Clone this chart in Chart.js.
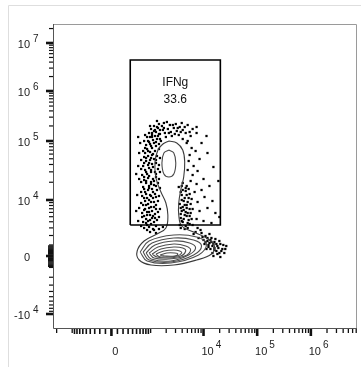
<!DOCTYPE html>
<html>
<head>
<meta charset="utf-8">
<script src="https://cdn.jsdelivr.net/npm/chart.js@4.4.0/dist/chart.umd.min.js"></script>
<style>
  html, body { margin: 0; padding: 0; background: #fff; }
  canvas { display: block; }
</style>
</head>
<body>
<canvas id="plot" width="361" height="367"></canvas>
<script>
// axis ticks (real values) and their labels [base, exponent]
const xTickValues = [0, 1e4, 1e5, 1e6];
const xTickLabels = [['0', ''], ['10', '4'], ['10', '5'], ['10', '6']];
const yTickValues = [-1e4, 0, 1e4, 1e5, 1e6, 1e7];
const yTickLabels = [['-10', '4'], ['0', ''], ['10', '4'], ['10', '5'], ['10', '6'], ['10', '7']];

// gate (display channel units)
const gateName = 'IFNg';
const gateFreq = '33.6';
const gateBox = [[78, 104], [169, 104], [169, 269], [78, 269], [78, 104]];

// outermost contour: upper (IFNg+) drop joined to the lower blob
const contourOuter = [
  [117,188],[125,186],[131,179],[133,167],[132,152],[129,139],[127,126],[127,114],
  [130,103],[142,97],[155,91],[163,83],[160,75],[145,69],[122,64],[99,64],
  [87,69],[85,78],[92,88],[105,95],[114,101],[116,114],[114,126],[109,137],
  [104,151],[103,167],[106,179],[111,185],[117,188]
];
const contourUpperCore = [
  [117,179],[122,176],[124,166],[122,155],[117,152],[112,155],[110,166],[112,176],[117,179]
];
const contourLower = [
  [[88,77],[97,88],[122,94],[145,92],[155,85],[147,74],[119,66],[95,68],[88,77]],
  [[91,77],[100,86],[122,91],[142,89],[150,83],[142,74],[119,67],[97,69],[91,77]],
  [[94,76],[103,84],[122,88],[138,86],[144,81],[137,74],[119,68],[99,70],[94,76]],
  [[97,76],[106,82],[122,85],[134,83],[139,79],[133,73],[117,70],[102,71],[97,76]],
  [[100,75],[109,80],[122,82],[131,81],[134,78],[129,73],[115,71],[105,72],[100,75]],
  [[104,75],[112,78],[122,79],[128,78],[130,76],[125,73],[113,72],[107,72.5],[104,75]],
  [[108,74],[115,76],[123,76],[126,75],[123,73],[113,73],[108,74]]
];

// outlier events outside the outer contour
const outlierEvents = [
  // left band
  [92,101],[97,102],[101,100],[95,104],[99,105],[104,103],[91,107],[96,108],[102,107],[94,110],
  [100,111],[105,109],[92,113],[98,114],[103,115],[90,116],[95,117],[100,118],[106,117],[93,120],
  [97,121],[102,122],[91,124],[96,125],[104,124],[99,127],[93,128],[106,128],[95,131],[101,131],
  [90,133],[98,134],[103,135],[93,137],[96,139],[100,140],[105,139],[91,142],[97,143],[102,144],
  [94,146],[99,147],[106,146],[92,149],[96,151],[101,150],[104,152],[90,154],[95,155],[99,157],
  [103,157],[93,159],[97,161],[106,160],[91,163],[96,164],[100,165],[104,166],[94,168],[98,169],
  [102,170],[92,172],[96,173],[100,174],[105,173],[93,176],[98,177],[103,178],[95,180],[100,181],
  [107,180],[94,184],[98,185],[102,186],[96,188],[101,189],[105,190],[98,192],[103,193],[100,196],
  [107,195],
  [89,103],[94,106],[98,109],[103,111],[90,112],[95,114],[101,113],[97,117],[92,119],[104,120],
  [99,122],[94,124],[89,126],[102,127],[97,129],[92,131],[104,132],[99,133],[94,135],[89,137],
  [101,137],[97,141],[92,140],[104,143],[99,145],[94,148],[89,147],[102,148],[97,153],[92,152],
  [104,155],[99,159],[94,157],[89,160],[101,162],[97,166],[92,166],[104,169],[99,171],[94,171],
  [89,169],[101,175],[96,178],[91,178],[104,183],[99,183],[93,181],[97,187],[92,188],[104,187],
  [100,192],[95,192],[106,193],[97,196],[102,198],[93,194],[108,199],[99,200],[105,202],
  [107,112],[108,120],[107,133],[108,141],[107,150],[108,157],[107,164],[108,171],[107,185],[109,188],
  [98,97],[102,99],[107,100],[111,102],[104,96],[95,99],
  // sparse fringe left of the band
  [86,108],[87,121],[85,134],[87,150],[86,163],[87,176],[88,186],[86,192],[84,118],[84,155],
  // top cap
  [104,197],[108,195],[111,199],[106,201],[113,196],[116,200],[119,197],[110,203],[122,201],[125,198],
  [128,202],[118,204],[131,199],[134,196],[114,192],[120,193],[127,194],[108,190],[131,190],[136,188],
  [139,193],[124,205],[103,199],[130,206],[141,200],
  [100,194],[112,201],[117,196],[121,204],[126,201],[129,197],[107,205],[115,207],[133,202],[138,197],
  [102,203],[123,195],[98,203],[105,208],[112,206],[136,204],[145,202],
  // right, sparse
  [135,186],[140,181],[138,174],[144,178],[137,168],[142,163],[148,170],[136,159],[141,154],[146,158],
  [139,148],[145,145],[152,150],[137,140],[143,137],[150,139],[158,143],[140,130],[146,127],[153,132],
  [161,128],[135,124],[141,120],[148,118],[156,121],[164,116],[138,113],[145,110],[152,108],[160,106],
  [168,112],[150,186],[156,176],[162,162],[167,148],[155,193],[145,196],
  // right edge of the drop / neck
  [128,104],[131,107],[134,103],[129,111],[133,114],[137,109],[130,118],[135,121],[128,125],[132,128],
  [137,131],[130,134],[134,138],[127,142],[131,146],[136,101],[139,116],[133,100],
  [132,110],[135,113],[138,105],[134,117],[131,122],[136,127],[133,131],[138,135],[131,139],[135,143],
  [139,125],[141,104],
  [129,101],[130,108],[136,106],[129,115],[132,119],[136,116],[129,121],[133,124],[130,129],[135,134],
  [129,137],[134,141],[130,143],[140,110],[138,120],
  // lower right tail
  [150,96],[154,93],[158,95],[147,91],[152,89],[156,88],[160,91],[163,87],[157,84],[161,83],
  [165,85],[159,80],[163,79],[167,81],[155,80],[161,76],[166,75],[170,78],[158,86],[164,90],
  [168,88],[172,84],[153,85],[169,72],[174,80],[162,73],[149,99],[144,97],[146,101],[142,95],
  [156,91],[159,89],[162,85],[166,83],[160,87],[163,81],[169,85],[171,80],[157,82],[154,87],
  [151,92],[165,78],[168,76],[173,76],[175,83]
];

// biexponential-like display transforms (real value -> display channel)
function xT(v) {
  return 59 + 23.54 * Math.asinh(v / 385);
}
function yT(v) {
  const dec = {4: 129, 5: 188, 6: 238, 7: 286, 8: 334};
  if (v >= 1e4) {
    const e = Math.log10(v), i = Math.floor(e);
    if (i >= 8) return dec[8];
    return dec[i] + (dec[i + 1] - dec[i]) * (e - i);
  }
  if (v >= 0) return 73 + 56 * Math.asinh(v / 2222) / Math.asinh(4.5);
  if (v > -1e4) return 73 - 58 * Math.asinh(-v / 2222) / Math.asinh(4.5);
  return 15 - 58 * Math.log10(-v / 1e4);
}

function minorTicks(decadeStarts, signs) {
  const out = [];
  decadeStarts.forEach(d => {
    for (let n = 2; n <= 9; n++) signs.forEach(s => out.push(s * n * d));
  });
  return out;
}
const xMinor = minorTicks([100, 1000, 1e4, 1e5, 1e6], [1]).concat(minorTicks([100, 1000], [-1]))
  .concat([100, 1000, -100, -1000]);
const yMinor = minorTicks([100, 1000], [1, -1]).concat(minorTicks([1e4, 1e5, 1e6, 1e7], [1]))
  .concat([100, 1000, -100, -1000]);

const pts = arr => arr.map(p => ({x: p[0], y: p[1]}));

const fontBase = '"Liberation Sans", Arial, sans-serif';

const flowAxes = {
  id: 'flowAxes',
  beforeDraw(chart) {
    const ctx = chart.ctx;
    ctx.save();
    ctx.fillStyle = '#fff';
    ctx.fillRect(0, 0, chart.width, chart.height);
    ctx.strokeStyle = '#dedede';
    ctx.lineWidth = 1;
    ctx.beginPath();
    ctx.moveTo(8.5, chart.height);
    ctx.lineTo(8.5, 5.5);
    ctx.lineTo(chart.width, 5.5);
    ctx.stroke();
    ctx.restore();
  },
  afterDatasetsDraw(chart) {
    const ctx = chart.ctx;
    const {left, right, top, bottom} = chart.chartArea;
    const xs = chart.scales.x, ys = chart.scales.y;
    ctx.save();

    // frame
    ctx.strokeStyle = '#9a9a9a';
    ctx.lineWidth = 1;
    ctx.beginPath();
    ctx.moveTo(left, top + 0.5); ctx.lineTo(right - 0.5, top + 0.5); ctx.lineTo(right - 0.5, bottom);
    ctx.stroke();
    ctx.strokeStyle = '#555';
    ctx.beginPath();
    ctx.moveTo(left + 0.5, top); ctx.lineTo(left + 0.5, bottom - 0.5); ctx.lineTo(right, bottom - 0.5);
    ctx.stroke();

    // ticks
    ctx.strokeStyle = '#111';
    const yTick = (v, len, w) => {
      const p = ys.getPixelForValue(yT(v));
      if (p < top || p > bottom) return;
      ctx.lineWidth = w;
      ctx.beginPath(); ctx.moveTo(left - len, p); ctx.lineTo(left, p); ctx.stroke();
    };
    const xTick = (v, len, w) => {
      const p = xs.getPixelForValue(xT(v));
      if (p < left || p > right) return;
      ctx.lineWidth = w;
      ctx.beginPath(); ctx.moveTo(p, bottom); ctx.lineTo(p, bottom + len); ctx.stroke();
    };
    yMinor.forEach(v => yTick(v, Math.abs(v) < 1000 ? 5 : 4, Math.abs(v) < 1000 ? 1.4 : 1.2));
    xMinor.forEach(v => xTick(v, Math.abs(v) < 1000 ? 5 : 4, Math.abs(v) < 1000 ? 1.6 : 1.3));
    yTickValues.forEach(v => yTick(v, 7, 2.6));
    xTickValues.forEach(v => xTick(v, 7, 2.6));

    // tick labels
    ctx.fillStyle = '#222';
    ctx.textBaseline = 'middle';
    yTickValues.forEach((v, i) => {
      const p = ys.getPixelForValue(yT(v));
      const [base, sup] = yTickLabels[i];
      ctx.font = '11px ' + fontBase;
      ctx.textAlign = 'right';
      ctx.fillText(base, left - 23, p + 2);
      if (sup) {
        ctx.font = '10px ' + fontBase;
        ctx.textAlign = 'left';
        ctx.fillText(sup, left - 20, p - 4);
      }
    });
    xTickValues.forEach((v, i) => {
      const p = xs.getPixelForValue(xT(v));
      const [base, sup] = xTickLabels[i];
      ctx.font = '11px ' + fontBase;
      ctx.textAlign = 'center';
      const w = ctx.measureText(base).width;
      ctx.fillText(base, p + 4, bottom + 23);
      if (sup) {
        ctx.font = '10px ' + fontBase;
        ctx.textAlign = 'left';
        ctx.fillText(sup, p + 4 + w / 2 + 2, bottom + 16);
      }
    });

    // gate label
    const gx = xs.getPixelForValue((gateBox[0][0] + gateBox[1][0]) / 2);
    ctx.font = '12px ' + fontBase;
    ctx.textAlign = 'center';
    ctx.fillStyle = '#111';
    ctx.fillText(gateName, gx, ys.getPixelForValue(246));
    ctx.fillText(gateFreq, gx, ys.getPixelForValue(229));
    ctx.restore();
  }
};

const contourStyle = (data, color) => ({
  data: pts(data), showLine: true, pointRadius: 0, borderColor: color,
  borderWidth: 1.1, tension: 0.4, fill: false, order: 1
});

const datasets = [
  {data: pts(gateBox), showLine: true, pointRadius: 0, borderColor: '#000',
   borderWidth: 1.6, tension: 0, fill: false, order: 0},
  contourStyle(contourOuter, '#3c3c3c'),
  contourStyle(contourUpperCore, '#4a4a4a'),
  ...contourLower.map(c => contourStyle(c, '#4e4e4e')),
  {data: pts(outlierEvents), showLine: false, pointStyle: 'rect', pointRadius: 1.6,
   borderWidth: 0, backgroundColor: '#000', order: 2}
];

new Chart(document.getElementById('plot'), {
  type: 'scatter',
  data: {datasets},
  options: {
    responsive: false,
    animation: false,
    layout: {padding: {left: 53, right: 1, top: 24, bottom: 38}},
    scales: {
      x: {type: 'linear', min: 0, max: 307, display: false},
      y: {type: 'linear', min: 0, max: 305, display: false}
    },
    plugins: {legend: {display: false}, tooltip: {enabled: false}}
  },
  plugins: [flowAxes]
});
</script>
</body>
</html>
